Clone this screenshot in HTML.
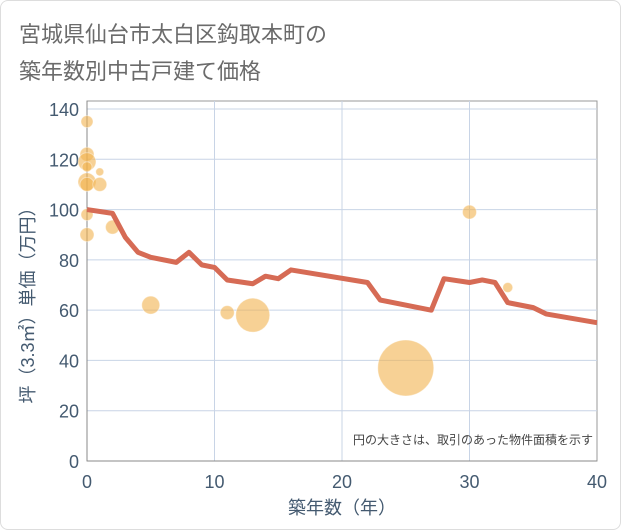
<!DOCTYPE html>
<html><head><meta charset="utf-8"><style>
body{margin:0;background:#fff;font-family:"Liberation Sans","Noto Sans CJK JP",sans-serif;}
#wrap{position:relative;width:619px;height:528px;border:1px solid #ddd;border-radius:8px;overflow:hidden;background:#fff}
</style></head><body>
<div id="wrap">
<svg id="chart" width="621" height="530"></svg>
</div>
<script>
const lineYears=[0,2,3,4,5,7,8,9,10,11,13,14,15,16,22,23,27,28,30,31,32,33,35,36,40];
const linePrices=[100,98.5,89,83,81,79,83,78,77,72,70.5,73.5,72.5,76,71,64,60,72.5,71,72,71,63,61,58.5,55];
const bubbleYears=[0,0,0,0,0,0,1,1,0,0,2,5,11,13,25,30,33];
const bubblePrices=[135,122,119,117,111,110,115,110,98,90,93,62,59,58,37,99,69];
const bubbleSizes=[6,7,9,5,9,7,4,7,6,7,7,9,7,17,28,7,5];
const xTicks=[0,10,20,30,40];
const yTicks=[0,20,40,60,80,100,120,140];
const NS="http://www.w3.org/2000/svg";
const svg=document.getElementById('chart');
const L=86,R=596,T=100,B=460;
const x=v=>L+(v/40)*(R-L);
const y=v=>B-(v/140)*(B-108);
function el(tag,attrs,text){const e=document.createElementNS(NS,tag);for(const k in attrs)e.setAttribute(k,attrs[k]);if(text!==undefined)e.textContent=text;svg.appendChild(e);return e;}
let t=el('text',{x:18,y:41,'font-size':22,fill:'#6b6b6b'},'宮城県仙台市太白区鈎取本町の');


t=el('text',{x:18,y:78,'font-size':22,fill:'#6b6b6b'},'築年数別中古戸建て価格');


let bg=el('rect',{x:L,y:T,width:R-L,height:B-T,fill:'#fff',stroke:'#999'});


yTicks.forEach(v=>{
  if(v>0){const g=el('line',{x1:L,x2:R,y1:y(v),y2:y(v),stroke:'#c8d4e6'});
  
  }
  const lb=el('text',{x:L-8,y:y(v)+7,'font-size':18,fill:'#445a70','text-anchor':'end'},String(v));
  
  
});
xTicks.forEach(v=>{
  if(v>0&&v<40){const g=el('line',{x1:x(v),x2:x(v),y1:T,y2:B,stroke:'#c8d4e6'});
  
  }
  const lb=el('text',{x:x(v),y:B+27,'font-size':18,fill:'#445a70','text-anchor':'middle'},String(v));
  
  
});
let ax=el('line',{x1:L,x2:L,y1:T,y2:B,stroke:'#888'});


ax=el('line',{x1:L,x2:R,y1:B,y2:B,stroke:'#888'});


bubbleYears.forEach((yr,i)=>{
  const c=el('circle',{cx:x(yr),cy:y(bubblePrices[i]),r:bubbleSizes[i],fill:'#f2b24f','fill-opacity':0.6,stroke:'#fff','stroke-opacity':0.4});
  
  
});
const pts=linePrices.map((p,i)=>x(lineYears[i])+','+y(p)).join(' ');
const pl=el('polyline',{points:pts,fill:'none',stroke:'#d66b55','stroke-width':5,'stroke-linejoin':'round'});


const note=el('text',{x:592,y:443,'font-size':12,fill:'#444','text-anchor':'end'},'円の大きさは、取引のあった物件面積を示す');


const xt=el('text',{x:341,y:513,'font-size':18,fill:'#445a70','text-anchor':'middle'},'築年数（年）');


const yt=el('text',{x:0,y:0,'font-size':18,fill:'#445a70','text-anchor':'middle',transform:'translate(33,300) rotate(-90)'},'坪（3.3㎡）単価（万円）');


</script>
</body></html>
